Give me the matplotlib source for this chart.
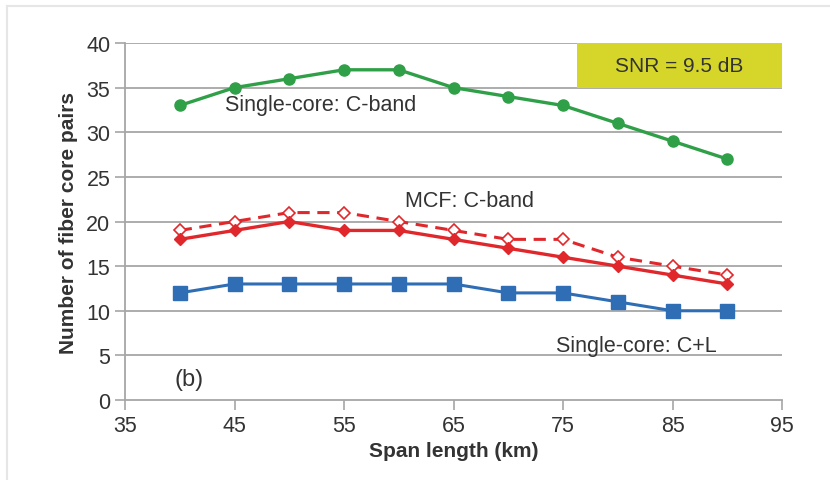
import numpy as np
import matplotlib.pyplot as plt
from matplotlib.lines import Line2D

plt.rcParams["font.family"] = ["Liberation Sans", "DejaVu Sans"]

## data ##
span = [40, 45, 50, 55, 60, 65, 70, 75, 80, 85, 90]
single_c = [33, 35, 36, 37, 37, 35, 34, 33, 31, 29, 27]
mcf_c = [18, 19, 20, 19, 19, 18, 17, 16, 15, 14, 13]
mcf_c_dash = [19, 20, 21, 21, 20, 19, 18, 18, 16, 15, 14]
single_cl = [12, 13, 13, 13, 13, 13, 12, 12, 11, 10, 10]
xticks = [35, 45, 55, 65, 75, 85, 95]
yticks = [0, 5, 10, 15, 20, 25, 30, 35, 40]

green = "#30a048"
red = "#e0282c"
blue = "#2f6db5"
grey = "#a6a6a6"
txt = "#333333"

fig = plt.figure(figsize=(8.3, 4.81), dpi=100)
ax = fig.add_axes([0.1506, 0.1663, 0.7916, 0.7422])

for y in yticks[1:]:
    ax.axhline(y, color=grey, lw=1.3, zorder=0)

ax.plot(span, single_c, color=green, lw=2.4, marker="o", ms=8, zorder=3)
ax.plot(span, mcf_c_dash, color=red, lw=2.2, ls=(0, (4, 2.5)), marker="D", ms=6,
        mfc="white", mec=red, mew=1.2, zorder=3)
ax.plot(span, mcf_c, color=red, lw=2.4, marker="D", ms=6.5, zorder=4)
ax.plot(span, single_cl, color=blue, lw=2.2, marker="s", ms=9.5, zorder=3)

ax.set_xlim(35, 95)
ax.set_ylim(0, 40)
ax.set_xticks(xticks)
ax.set_yticks(yticks)
ax.tick_params(labelsize=15.5, colors=grey, labelcolor=txt, length=7, width=1.2)
for s in ["top", "right"]:
    ax.spines[s].set_visible(False)
for s in ["left", "bottom"]:
    ax.spines[s].set_color(grey)
    ax.spines[s].set_linewidth(1.3)

ax.set_xlabel("Span length (km)", fontsize=15, fontweight="bold", color=txt, labelpad=4)
ax.set_ylabel("Number of fiber core pairs", fontsize=15, fontweight="bold", color=txt, labelpad=6)

# labels on the curves
ax.text(44.1, 33.1, "Single-core: C-band", fontsize=15.5, color=txt, va="center")
ax.text(60.6, 22.4, "MCF: C-band", fontsize=15.5, color=txt, va="center")
ax.text(74.4, 6.1, "Single-core: C+L", fontsize=15.5, color=txt, va="center")
ax.text(39.5, 2.4, "(b)", fontsize=17, color=txt, va="center")

# SNR box
ax.add_patch(plt.Rectangle((0.688, 0.875), 0.312, 0.125, transform=ax.transAxes,
                           facecolor="#d6d62a", edgecolor="none", zorder=5))
ax.text(0.844, 0.9375, "SNR = 9.5 dB", transform=ax.transAxes, fontsize=15,
        color=txt, ha="center", va="center", zorder=6)

# faint frame of the original figure
fig.add_artist(Line2D([0.0084, 1.0], [0.985, 0.985], color="#e6e6e6", lw=1.5))
fig.add_artist(Line2D([0.0084, 0.0084], [0.0, 0.985], color="#e6e6e6", lw=1.5))

fig.savefig("out.png", dpi=100)
